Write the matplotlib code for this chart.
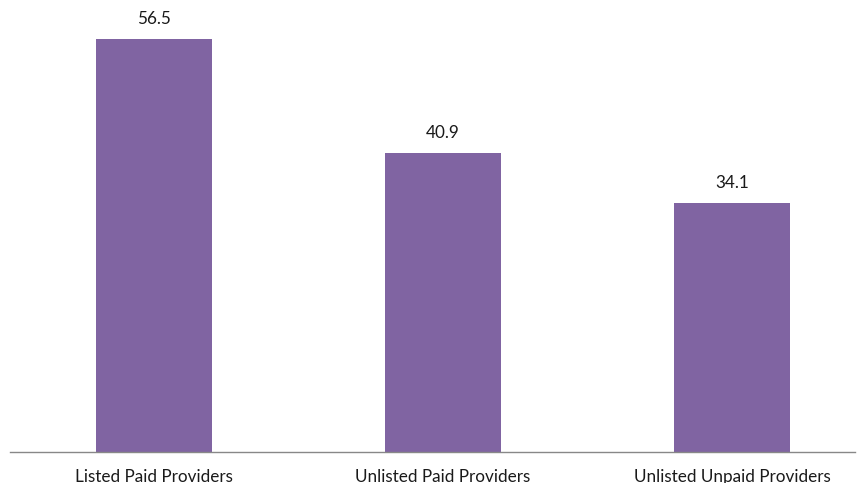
import matplotlib.pyplot as plt

categories = ['Listed Paid Providers', 'Unlisted Paid Providers', 'Unlisted Unpaid Providers']
values = [56.5, 40.9, 34.1]

plt.rcParams['font.family'] = ['Lato', 'DejaVu Sans']

W, H = 865, 483
fig = plt.figure(figsize=(W / 100, H / 100), dpi=100)
ax = fig.add_axes([10 / W, (H - 452) / H, 845 / W, 438.6 / H])

x = range(len(categories))
bars = ax.bar(x, values, width=0.4, color='#8064A2')
for xi, v in zip(x, values):
    ax.text(xi, v + 1.6, f'{v:.1f}', ha='center', va='bottom', fontsize=12.3, color='#1a1a1a')

ax.set_xlim(-0.498, 2.426)
ax.set_ylim(0, 60)
ax.set_yticks([])
ax.set_xticks(list(x))
ax.set_xticklabels(categories, fontsize=12.3, color='#1a1a1a')
ax.tick_params(axis='x', length=0, pad=12)
for s in ['top', 'right', 'left']:
    ax.spines[s].set_visible(False)
ax.spines['bottom'].set_color('#888888')
ax.spines['bottom'].set_linewidth(1.0)

plt.savefig('out.png', dpi=100)
